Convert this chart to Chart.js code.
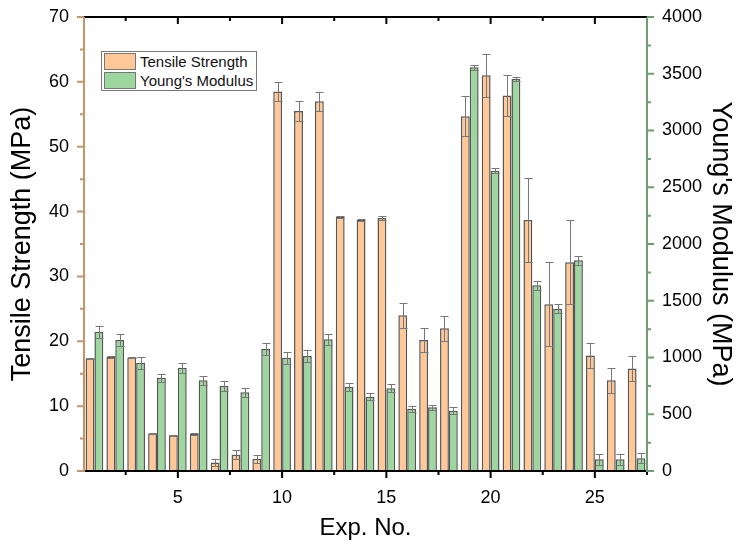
<!DOCTYPE html>
<html>
<head>
<meta charset="utf-8">
<script src="https://cdn.jsdelivr.net/npm/chart.js@4/dist/chart.umd.min.js"></script>
<style>
  html, body { margin: 0; padding: 0; background: #fff; }
  #wrap { position: relative; width: 737px; height: 545px; }
  #legend {
    position: absolute; left: 101px; top: 51px; width: 154px; height: 38px;
    border: 1px solid #777; background: #fff;
    font-family: "Liberation Sans", Arial, sans-serif; font-size: 15px; color: #111;
  }
  .row { display: flex; align-items: center; height: 19px; }
  .sw { width: 32px; height: 17px; margin: 0 4px 0 2px; border: 1px solid #777; box-sizing: border-box; }
</style>
</head>
<body>
<div id="wrap">
  <canvas id="chart" width="737" height="545"></canvas>
  <div id="legend">
    <div class="row"><div class="sw" style="background:#FFC896"></div>Tensile Strength</div>
    <div class="row"><div class="sw" style="background:#9DD69F"></div>Young's Modulus</div>
  </div>
</div>
<script>
// ── Data ──────────────────────────────────────
const expNo      = [1,2,3,4,5,6,7,8,9,10,11,12,13,14,15,16,17,18,19,20,21,22,23,24,25,26,27];
const tensile    = [17.4,17.6,17.5,5.8,5.5,5.7,1.3,2.5,1.9,58.5,55.5,57.0,39.2,38.7,39.0,24.0,20.2,22.0,54.7,61.0,57.9,38.7,25.7,32.2,17.8,14.0,15.8];
const tensileErr = [0.1,0.1,0.1,0.1,0.1,0.1,0.6,0.7,0.6,1.5,1.6,1.5,0.15,0.2,0.25,1.9,1.9,1.95,3.1,3.3,3.1,6.4,6.5,6.5,1.9,1.9,1.9];
const modulus    = [1227,1154,954,822,910,799,752,693,1075,998,1013,1160,740,655,728,549,561,531,3557,2646,3454,1636,1430,1856,103,103,112];
const modulusErr = [53,53,53,35,44,41,44,41,50,53,53,50,32,29,35,26,21,29,21,21,15,38,38,38,47,47,45];
const xTickLabels = [5,10,15,20,25];

const FONT = '"Liberation Sans", Arial, sans-serif';
const LEFT_COL  = '#C4946A';
const RIGHT_COL = '#6E9E6E';

// ── Error bars + axis ticks ───────────────────
const extras = {
  id: 'extras',
  afterDatasetsDraw(chart) {
    const ctx = chart.ctx;
    const errs = [tensileErr, modulusErr];
    ctx.save();
    ctx.strokeStyle = '#777';
    ctx.lineWidth = 1;
    chart.data.datasets.forEach((ds, di) => {
      const meta = chart.getDatasetMeta(di);
      const ys = chart.scales[ds.yAxisID];
      meta.data.forEach((bar, i) => {
        const v = ds.data[i].y, e = errs[di][i];
        const x = Math.round(bar.x) + 0.5;
        const yt = Math.round(ys.getPixelForValue(v + e)) + 0.5;
        const yb = Math.round(ys.getPixelForValue(Math.max(0, v - e))) + 0.5;
        ctx.beginPath();
        ctx.moveTo(x, yt); ctx.lineTo(x, yb);
        ctx.moveTo(x - 4, yt); ctx.lineTo(x + 4, yt);
        ctx.moveTo(x - 4, yb); ctx.lineTo(x + 4, yb);
        ctx.stroke();
      });
    });
    ctx.restore();
  },
  afterDraw(chart) {
    const ctx = chart.ctx;
    const { left, right, top, bottom } = chart.chartArea;
    const xs = chart.scales.x, yl = chart.scales.y, yr = chart.scales.y2;
    ctx.save();
    ctx.lineWidth = 2;
    // top + bottom frame
    ctx.strokeStyle = '#000';
    ctx.beginPath();
    ctx.moveTo(left, top); ctx.lineTo(right, top);
    ctx.moveTo(left, bottom); ctx.lineTo(right, bottom);
    ctx.stroke();
    for (let v = 2.5; v < 27.6; v += 2.5) {
      const px = xs.getPixelForValue(v);
      const major = v % 5 === 0;
      ctx.beginPath();
      ctx.moveTo(px, bottom); ctx.lineTo(px, bottom + (major ? 7 : 4));
      ctx.moveTo(px, top); ctx.lineTo(px, top + (major ? 7 : 4));
      ctx.stroke();
    }
    // left axis
    ctx.strokeStyle = LEFT_COL;
    ctx.beginPath();
    ctx.moveTo(left, top); ctx.lineTo(left, bottom + 1);
    for (let v = 0; v <= 70; v += 5) {
      const py = yl.getPixelForValue(v);
      ctx.moveTo(left, py); ctx.lineTo(left - (v % 10 === 0 ? 7 : 4), py);
    }
    ctx.stroke();
    // right axis
    ctx.strokeStyle = RIGHT_COL;
    ctx.beginPath();
    ctx.moveTo(right, top); ctx.lineTo(right, bottom + 1);
    for (let v = 0; v <= 4000; v += 250) {
      const py = yr.getPixelForValue(v);
      ctx.moveTo(right, py); ctx.lineTo(right + (v % 500 === 0 ? 7 : 4), py);
    }
    ctx.stroke();
    ctx.restore();
  }
};

const tickFont = { family: FONT, size: 18 };
const noPad = s => { s.paddingTop = 0; s.paddingBottom = 0; s.paddingLeft = 0; s.paddingRight = 0; };

new Chart(document.getElementById('chart'), {
  type: 'bar',
  data: {
    datasets: [
      { label: 'Tensile Strength', yAxisID: 'y',
        data: expNo.map((x, i) => ({ x, y: tensile[i] })),
        backgroundColor: '#FFC896', borderColor: '#555', borderWidth: 1.5 },
      { label: "Young's Modulus", yAxisID: 'y2',
        data: expNo.map((x, i) => ({ x, y: modulus[i] })),
        backgroundColor: '#9DD69F', borderColor: '#555', borderWidth: 1.5 }
    ]
  },
  options: {
    responsive: false,
    animation: false,
    categoryPercentage: 0.85,
    barPercentage: 1.0,
    layout: { padding: { top: 17 } },
    plugins: { legend: { display: false }, tooltip: { enabled: false } },
    scales: {
      x: {
        type: 'linear', min: 0.5, max: 27.5, offset: false,
        afterBuildTicks: s => { s.ticks = xTickLabels.map(v => ({ value: v })); },
        afterFit: s => { s.height = 74; noPad(s); },
        grid: { display: false, drawTicks: false, offset: false },
        border: { display: false },
        ticks: { font: tickFont, color: '#000', padding: 16, maxRotation: 0, autoSkip: false },
        title: { display: true, text: 'Exp. No.', font: { family: FONT, size: 24 }, color: '#000', padding: { top: 0, bottom: 2 } }
      },
      y: {
        position: 'left', min: 0, max: 70,
        ticks: { stepSize: 10, font: tickFont, color: '#000', padding: 15 },
        afterFit: s => { s.width = 84; noPad(s); },
        grid: { display: false, drawTicks: false },
        border: { display: false },
        title: { display: true, text: 'Tensile Strength (MPa)', font: { family: FONT, size: 27 }, color: '#000', padding: { top: 6, bottom: 0 } }
      },
      y2: {
        position: 'right', min: 0, max: 4000,
        ticks: { stepSize: 500, font: tickFont, color: '#000', padding: 15, callback: v => String(v) },
        afterFit: s => { s.width = 90; noPad(s); },
        grid: { display: false, drawTicks: false },
        border: { display: false },
        title: { display: true, text: "Young's Modulus (MPa)", font: { family: FONT, size: 27 }, color: '#000', padding: { top: 0, bottom: 0 } }
      }
    }
  },
  plugins: [extras]
});
</script>
</body>
</html>
